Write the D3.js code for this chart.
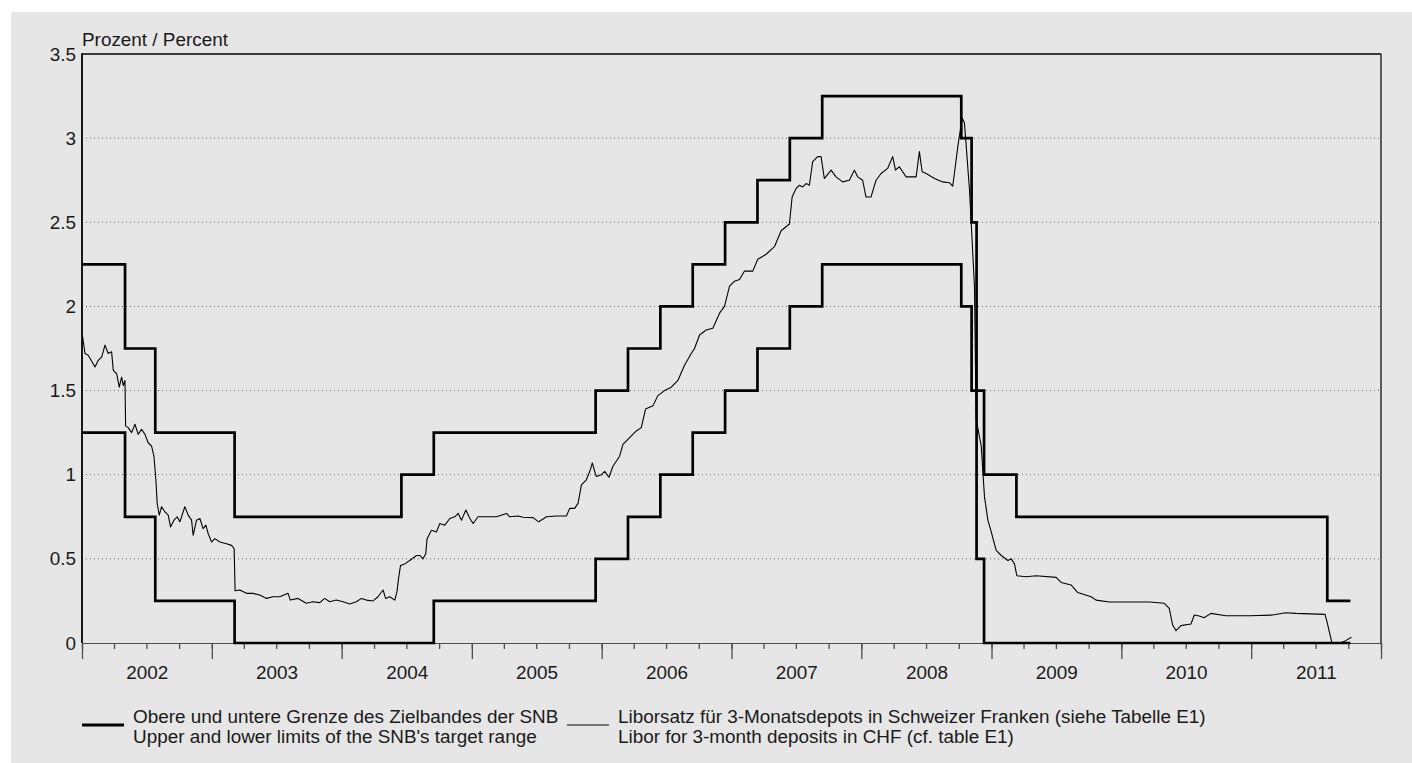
<!DOCTYPE html>
<html>
<head>
<meta charset="utf-8">
<script src="https://cdn.jsdelivr.net/npm/d3@7"></script>
<style>
  body { margin: 0; background: #fff; }
  svg text { font-family: "Liberation Sans", Arial, sans-serif; fill: #1a1a1a; }
</style>
</head>
<body>
<svg width="1412" height="763"></svg>
<script>
// SNB target range: dates of change, upper and lower limit (percent)
const targetDates = ["2002-01-01", "2002-05-02", "2002-07-26", "2003-03-06", "2004-06-17", "2004-09-16",
  "2005-12-15", "2006-03-16", "2006-06-15", "2006-09-14", "2006-12-14", "2007-03-15", "2007-06-14",
  "2007-09-13", "2008-10-08", "2008-11-06", "2008-11-20", "2008-12-11", "2009-03-12", "2011-08-03", "2011-10-07"];
const targetUpper = [2.25, 1.75, 1.25, 0.75, 1.0, 1.25, 1.5, 1.75, 2.0, 2.25, 2.5, 2.75, 3.0, 3.25, 3.0, 2.5, 1.5, 1.0, 0.75, 0.25, 0.25];
const targetLower = [1.25, 0.75, 0.25, 0, 0, 0.25, 0.5, 0.75, 1.0, 1.25, 1.5, 1.75, 2.0, 2.25, 2.0, 1.5, 0.5, 0, 0, 0, 0];

// 3-month CHF Libor: [decimal year, percent]
const libor = [
  [2002.005, 1.82], [2002.023, 1.72], [2002.048, 1.71], [2002.100, 1.64], [2002.125, 1.68], [2002.152, 1.70],
  [2002.177, 1.77], [2002.202, 1.72], [2002.228, 1.73], [2002.241, 1.62], [2002.267, 1.60], [2002.287, 1.52],
  [2002.305, 1.58], [2002.318, 1.53], [2002.331, 1.56], [2002.336, 1.29], [2002.356, 1.28], [2002.382, 1.25],
  [2002.408, 1.30], [2002.433, 1.24], [2002.459, 1.27], [2002.485, 1.24], [2002.510, 1.19], [2002.536, 1.17],
  [2002.554, 1.11], [2002.569, 0.97], [2002.579, 0.83], [2002.595, 0.76], [2002.613, 0.81], [2002.638, 0.78],
  [2002.664, 0.76], [2002.682, 0.69], [2002.708, 0.73], [2002.733, 0.75], [2002.754, 0.72], [2002.792, 0.81],
  [2002.818, 0.76], [2002.844, 0.73], [2002.856, 0.64], [2002.882, 0.73], [2002.908, 0.74], [2002.933, 0.68],
  [2002.954, 0.70], [2002.972, 0.65], [2002.998, 0.60],
  [2003.023, 0.62], [2003.062, 0.60], [2003.113, 0.59], [2003.152, 0.58], [2003.172, 0.56], [2003.179, 0.31],
  [2003.215, 0.315], [2003.267, 0.295], [2003.318, 0.295], [2003.369, 0.285], [2003.421, 0.265], [2003.472, 0.275],
  [2003.523, 0.275], [2003.587, 0.295], [2003.605, 0.255], [2003.664, 0.265], [2003.728, 0.236], [2003.779, 0.245],
  [2003.831, 0.24], [2003.869, 0.265], [2003.908, 0.245], [2003.959, 0.255],
  [2004.010, 0.245], [2004.062, 0.232], [2004.113, 0.245], [2004.152, 0.265], [2004.190, 0.255], [2004.241, 0.25],
  [2004.279, 0.275], [2004.318, 0.315], [2004.338, 0.265], [2004.369, 0.275], [2004.408, 0.255], [2004.425, 0.305],
  [2004.438, 0.39], [2004.452, 0.46], [2004.485, 0.47], [2004.523, 0.49], [2004.575, 0.52], [2004.600, 0.52],
  [2004.625, 0.50], [2004.646, 0.53], [2004.656, 0.62], [2004.690, 0.67], [2004.728, 0.66], [2004.754, 0.71],
  [2004.792, 0.70], [2004.831, 0.74], [2004.869, 0.75], [2004.895, 0.77], [2004.921, 0.73], [2004.954, 0.79],
  [2004.985, 0.74],
  [2005.010, 0.71], [2005.048, 0.75], [2005.113, 0.75], [2005.190, 0.75], [2005.267, 0.77], [2005.292, 0.75],
  [2005.356, 0.755], [2005.395, 0.747], [2005.472, 0.745], [2005.515, 0.72], [2005.575, 0.75], [2005.652, 0.755],
  [2005.728, 0.755], [2005.754, 0.80], [2005.792, 0.80], [2005.818, 0.83], [2005.844, 0.94], [2005.882, 0.97],
  [2005.913, 1.03], [2005.928, 1.07], [2005.946, 1.02], [2005.959, 0.99], [2005.998, 1.00],
  [2006.023, 1.02], [2006.056, 0.985], [2006.087, 1.05], [2006.138, 1.11], [2006.164, 1.18], [2006.215, 1.22],
  [2006.267, 1.26], [2006.305, 1.28], [2006.338, 1.39], [2006.395, 1.41], [2006.433, 1.47], [2006.485, 1.50],
  [2006.536, 1.52], [2006.587, 1.56], [2006.638, 1.65], [2006.690, 1.72], [2006.715, 1.75], [2006.754, 1.83],
  [2006.805, 1.86], [2006.856, 1.87], [2006.908, 1.96], [2006.946, 2.00], [2006.985, 2.12],
  [2007.023, 2.15], [2007.062, 2.16], [2007.100, 2.21], [2007.164, 2.21], [2007.202, 2.28], [2007.267, 2.31],
  [2007.331, 2.355], [2007.382, 2.45], [2007.446, 2.49], [2007.467, 2.65], [2007.497, 2.70], [2007.523, 2.72],
  [2007.548, 2.71], [2007.575, 2.73], [2007.600, 2.72], [2007.625, 2.86], [2007.664, 2.89], [2007.690, 2.89],
  [2007.715, 2.76], [2007.767, 2.81], [2007.805, 2.77], [2007.856, 2.74], [2007.908, 2.75], [2007.946, 2.81],
  [2007.972, 2.77],
  [2008.010, 2.75], [2008.036, 2.65], [2008.074, 2.65], [2008.113, 2.75], [2008.152, 2.79], [2008.202, 2.82],
  [2008.241, 2.89], [2008.262, 2.81], [2008.292, 2.83], [2008.344, 2.77], [2008.421, 2.77], [2008.446, 2.92],
  [2008.467, 2.80], [2008.498, 2.79], [2008.562, 2.76], [2008.625, 2.74], [2008.677, 2.735], [2008.702, 2.715],
  [2008.715, 2.79], [2008.741, 2.95], [2008.775, 3.12], [2008.792, 3.09], [2008.805, 2.96], [2008.831, 2.69],
  [2008.852, 2.375], [2008.869, 2.12], [2008.882, 1.33], [2008.921, 1.17], [2008.946, 0.87], [2008.972, 0.73],
  [2008.998, 0.66],
  [2009.036, 0.55], [2009.075, 0.52], [2009.126, 0.49], [2009.152, 0.50], [2009.177, 0.47], [2009.195, 0.40],
  [2009.267, 0.394], [2009.344, 0.40], [2009.498, 0.39], [2009.536, 0.36], [2009.613, 0.345], [2009.664, 0.30],
  [2009.767, 0.275], [2009.805, 0.255], [2009.908, 0.244],
  [2010.062, 0.244], [2010.215, 0.244], [2010.331, 0.236], [2010.369, 0.206], [2010.395, 0.107], [2010.421, 0.073],
  [2010.459, 0.103], [2010.536, 0.113], [2010.562, 0.166], [2010.600, 0.16], [2010.638, 0.15], [2010.690, 0.176],
  [2010.805, 0.162], [2010.985, 0.162],
  [2011.164, 0.166], [2011.267, 0.18], [2011.344, 0.176], [2011.569, 0.17], [2011.587, 0.117], [2011.621, 0.004],
  [2011.690, 0.002], [2011.728, 0.014], [2011.772, 0.034]
];

const yTicks = [0, 0.5, 1, 1.5, 2, 2.5, 3, 3.5];
const yearLabels = [2002, 2003, 2004, 2005, 2006, 2007, 2008, 2009, 2010, 2011];

const legendLabels = [
  ["Obere und untere Grenze des Zielbandes der SNB", "Upper and lower limits of the SNB's target range"],
  ["Liborsatz für 3-Monatsdepots in Schweizer Franken (siehe Tabelle E1)", "Libor for 3-month deposits in CHF (cf. table E1)"]
];

const FONT = 18.9;

// decimal year -> Date
function fromDecYear(t) {
  const yr = Math.floor(t);
  const a = new Date(yr, 0, 1), b = new Date(yr + 1, 0, 1);
  return new Date(+a + (t - yr) * (b - a));
}

const svg = d3.select("svg");
const plotLeft = 82, plotRight = 1381, plotTop = 54, plotBottom = 643;

// panel background
svg.append("rect")
  .attr("x", 11).attr("y", 12)
  .attr("width", 1412 - 11).attr("height", 763 - 12)
  .attr("fill", "#e6e6e6");

const x = d3.scaleTime()
  .domain([new Date(2002, 0, 1), new Date(2012, 0, 1)])
  .range([plotLeft, plotRight]);

const y = d3.scaleLinear()
  .domain([0, 3.5])
  .range([plotBottom, plotTop]);

// dotted gridlines
svg.append("g")
  .selectAll("line")
  .data(yTicks.filter(d => d > 0 && d < 3.5))
  .join("line")
  .attr("x1", plotLeft).attr("x2", plotRight)
  .attr("y1", d => y(d)).attr("y2", d => y(d))
  .attr("stroke", "#6a6a6a")
  .attr("stroke-width", 1)
  .attr("stroke-dasharray", "1,3");

// Y axis labels
const yAxis = svg.append("g")
  .attr("transform", `translate(${plotLeft}, 0)`)
  .call(d3.axisLeft(y).tickValues(yTicks).tickSize(0).tickPadding(6).tickFormat(d => String(d)));
yAxis.select(".domain").remove();
yAxis.attr("font-family", null).attr("font-size", null);
yAxis.selectAll("text").attr("font-size", FONT).attr("fill", "#1a1a1a");

// X axis: minor (quarters), major (years), labels (mid-year)
const xMinor = svg.append("g")
  .attr("transform", `translate(0, ${plotBottom})`)
  .call(d3.axisBottom(x).ticks(d3.timeMonth.every(3)).tickSize(6).tickSizeOuter(0).tickFormat(""));
const xMajor = svg.append("g")
  .attr("transform", `translate(0, ${plotBottom})`)
  .call(d3.axisBottom(x).ticks(d3.timeYear.every(1)).tickSize(16).tickSizeOuter(0).tickFormat(""));
[xMinor, xMajor].forEach(g => {
  g.selectAll("line").attr("stroke", "#4d4d4d").attr("stroke-width", 1.3);
  g.select(".domain").attr("stroke", "#4d4d4d").attr("stroke-width", 1.2);
});

const xLabels = svg.append("g")
  .attr("transform", `translate(0, ${plotBottom})`)
  .call(d3.axisBottom(x)
    .tickValues(yearLabels.map(yr => new Date(yr, 6, 2)))
    .tickSize(0).tickPadding(23)
    .tickFormat(d3.timeFormat("%Y")));
xLabels.select(".domain").remove();
xLabels.attr("font-family", null).attr("font-size", null);
xLabels.selectAll("text").attr("font-size", FONT).attr("fill", "#1a1a1a");

// frame: left axis, top and right border
svg.append("line").attr("x1", plotLeft).attr("x2", plotLeft).attr("y1", plotTop - 0.7).attr("y2", plotBottom)
  .attr("stroke", "#000").attr("stroke-width", 1.8);
svg.append("line").attr("x1", plotLeft).attr("x2", plotRight).attr("y1", plotTop).attr("y2", plotTop)
  .attr("stroke", "#000").attr("stroke-width", 1.5);
svg.append("line").attr("x1", plotRight).attr("x2", plotRight).attr("y1", plotTop).attr("y2", plotBottom)
  .attr("stroke", "#111").attr("stroke-width", 1.3);

// unit label
svg.append("text")
  .attr("x", plotLeft).attr("y", 46)
  .attr("font-size", FONT)
  .text("Prozent / Percent");

// Libor line
const liborLine = d3.line()
  .x(d => x(fromDecYear(d[0])))
  .y(d => y(d[1]));

svg.append("path")
  .datum(libor)
  .attr("fill", "none")
  .attr("stroke", "#000")
  .attr("stroke-width", 1.1)
  .attr("stroke-linejoin", "round")
  .attr("d", liborLine);

// target range step lines
const parseDate = d3.timeParse("%Y-%m-%d");
const stepLine = d3.line()
  .curve(d3.curveStepAfter)
  .x(d => x(d.date))
  .y(d => y(d.value));

[targetUpper, targetLower].forEach(series => {
  svg.append("path")
    .datum(targetDates.map((d, i) => ({ date: parseDate(d), value: series[i] })))
    .attr("fill", "none")
    .attr("stroke", "#000")
    .attr("stroke-width", 2.7)
    .attr("stroke-linejoin", "miter")
    .attr("d", stepLine);
});

// legend
const legendX = [82, 567];
const legendWidth = [2.8, 1.1];
legendLabels.forEach((lines, i) => {
  const g = svg.append("g").attr("transform", `translate(${legendX[i]}, 0)`);
  g.append("line")
    .attr("x1", 0).attr("x2", 42)
    .attr("y1", 725).attr("y2", 725)
    .attr("stroke", "#000")
    .attr("stroke-width", legendWidth[i]);
  g.selectAll("text")
    .data(lines)
    .join("text")
    .attr("x", 51)
    .attr("y", (d, j) => 723 + j * 19.5)
    .attr("font-size", FONT)
    .text(d => d);
});
</script>
</body>
</html>
